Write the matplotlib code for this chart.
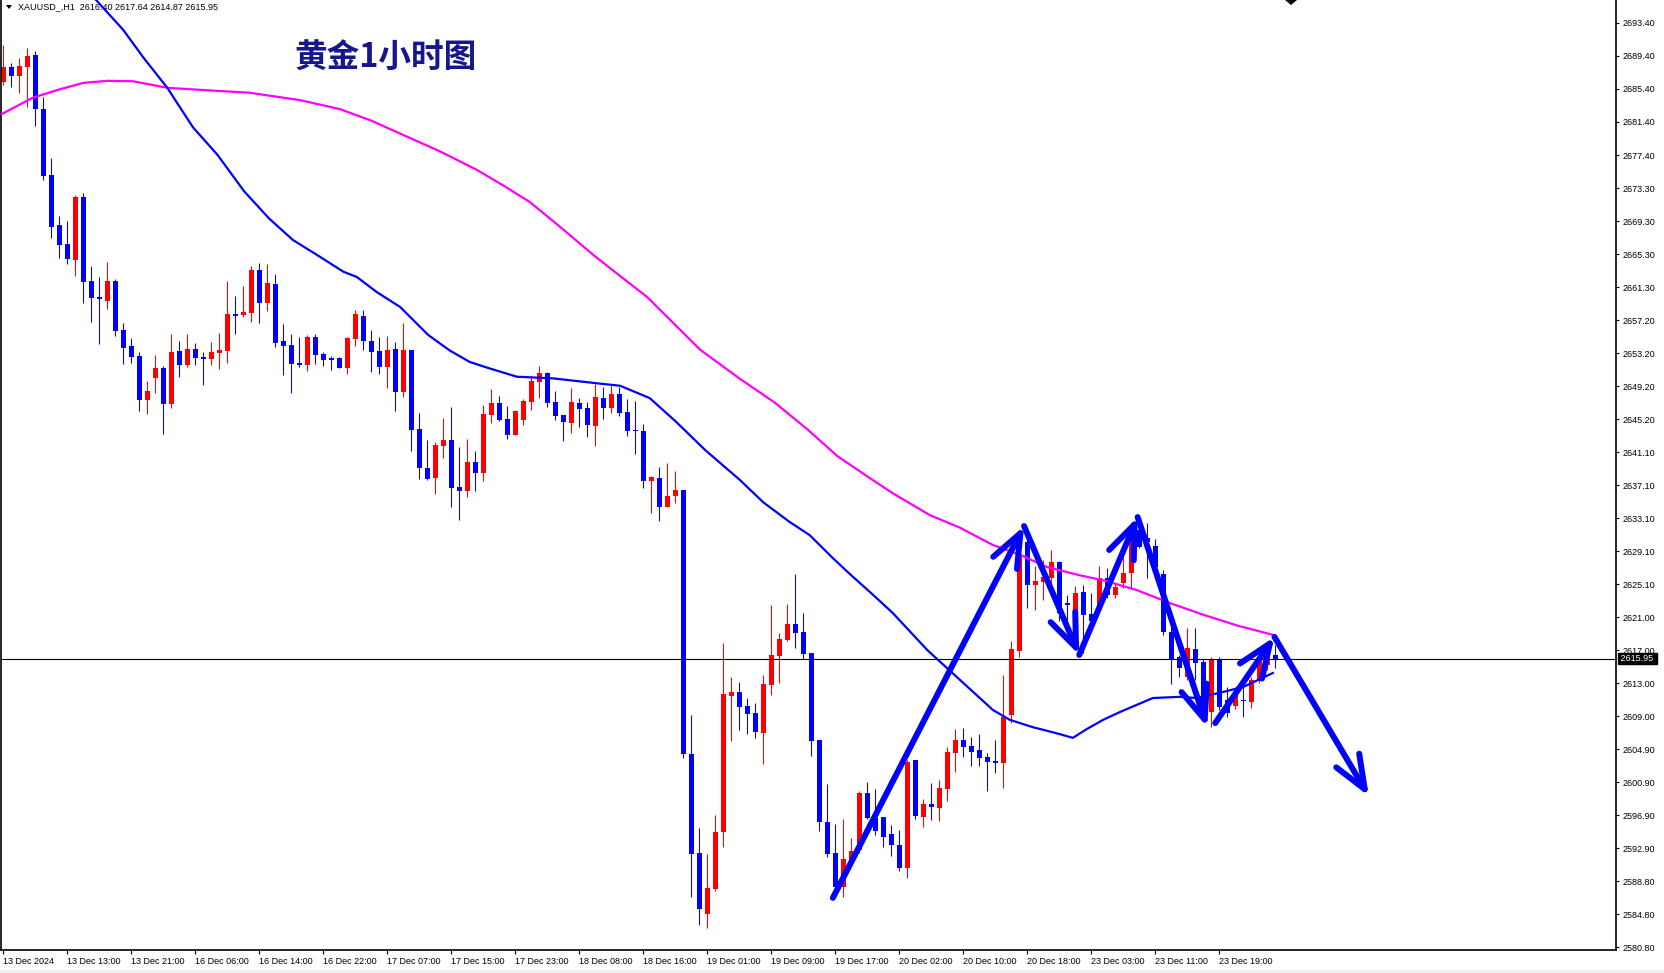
import matplotlib
matplotlib.use('Agg')
import matplotlib.pyplot as plt
from matplotlib.patches import Polygon, Rectangle
import numpy as np

plt.rcParams['font.family'] = ['Liberation Sans', 'DejaVu Sans']

# ---- 行情数据 XAUUSD H1 (从截图读取) ----
opens = [2686.25, 2688.00, 2686.98, 2688.08, 2689.50, 2682.92, 2674.88, 2668.79, 2666.47, 2664.52,
         2672.24, 2661.96, 2660.05, 2659.57, 2662.00, 2656.00, 2654.04, 2652.82, 2647.46, 2650.18,
         2651.32, 2646.97, 2653.39, 2651.73, 2653.64, 2652.70, 2652.45, 2653.23, 2653.47, 2657.94,
         2657.86, 2658.10, 2663.30, 2659.32, 2661.60, 2654.65, 2654.16, 2651.97, 2651.73, 2655.10,
         2653.07, 2652.62, 2652.62, 2651.40, 2654.94, 2657.70, 2654.65, 2653.43, 2651.52, 2653.68,
         2648.48, 2653.55, 2643.93, 2639.14, 2637.91, 2641.90, 2642.58, 2636.86, 2636.41, 2639.90,
         2638.60, 2645.67, 2647.09, 2645.14, 2643.23, 2645.06, 2647.26, 2649.69, 2650.75, 2647.21,
         2645.63, 2644.70, 2647.09, 2646.48, 2644.33, 2647.70, 2646.52, 2648.19, 2646.00, 2643.84,
         2643.72, 2637.63, 2637.92, 2634.46, 2635.80, 2636.50, 2604.32, 2592.22, 2584.83, 2587.83,
         2594.86, 2611.39, 2611.88, 2610.17, 2609.32, 2606.88, 2612.73, 2616.27, 2618.22, 2620.17,
         2619.19, 2616.63, 2606.03, 2596.04, 2592.26, 2588.16, 2591.49, 2592.63, 2599.61, 2596.50,
         2596.69, 2594.58, 2593.24, 2590.48, 2603.60, 2596.69, 2598.24, 2597.79, 2600.07, 2604.49,
         2606.04, 2605.30, 2604.82, 2604.00, 2603.48, 2603.28, 2609.08, 2616.92, 2630.12, 2624.92,
         2625.33, 2625.82, 2627.77, 2622.70, 2620.25, 2624.03, 2621.39, 2621.88, 2625.74, 2623.71,
         2625.13, 2626.35, 2631.60, 2630.60, 2629.68, 2626.27, 2619.24, 2616.19, 2613.75, 2617.13,
         2615.58, 2609.49, 2615.79, 2610.90, 2610.22, 2610.95, 2610.71, 2613.35, 2615.17, 2616.40]
highs = [2690.72, 2688.49, 2689.10, 2690.32, 2690.03, 2684.43, 2676.91, 2669.88, 2669.27, 2672.44,
         2672.65, 2663.79, 2662.49, 2664.32, 2662.17, 2656.80, 2654.98, 2653.31, 2649.78, 2652.95,
         2651.60, 2655.50, 2654.65, 2655.50, 2654.37, 2653.27, 2654.49, 2655.59, 2661.96, 2660.14,
         2661.35, 2663.79, 2664.20, 2664.04, 2662.82, 2656.72, 2655.51, 2655.14, 2655.38, 2655.51,
         2653.31, 2652.82, 2652.74, 2655.18, 2658.43, 2658.43, 2656.00, 2655.10, 2655.26, 2654.53,
         2656.85, 2653.60, 2645.88, 2642.59, 2642.34, 2645.27, 2646.61, 2641.73, 2642.71, 2641.24,
         2646.85, 2648.80, 2647.95, 2646.73, 2646.24, 2647.58, 2650.38, 2651.64, 2650.87, 2648.56,
         2645.63, 2648.92, 2647.70, 2647.26, 2649.41, 2649.04, 2649.29, 2649.04, 2647.58, 2647.34,
         2644.57, 2638.20, 2639.34, 2639.83, 2638.81, 2636.50, 2609.08, 2595.35, 2592.14, 2596.89,
         2617.89, 2613.71, 2613.10, 2611.15, 2610.50, 2613.91, 2622.48, 2619.07, 2622.60, 2626.26,
         2621.51, 2616.63, 2606.03, 2600.71, 2595.84, 2596.45, 2594.13, 2599.86, 2600.87, 2600.10,
         2596.69, 2595.68, 2595.07, 2603.60, 2603.60, 2598.81, 2600.84, 2601.16, 2605.22, 2607.42,
         2607.50, 2606.44, 2606.77, 2604.49, 2606.04, 2613.96, 2618.06, 2631.00, 2632.00, 2627.24,
         2627.97, 2629.19, 2627.80, 2623.70, 2624.80, 2624.92, 2623.91, 2627.24, 2626.96, 2625.20,
         2628.38, 2632.44, 2632.80, 2632.44, 2630.49, 2626.75, 2619.80, 2616.40, 2619.64, 2619.64,
         2615.90, 2616.20, 2616.20, 2612.50, 2612.54, 2613.35, 2613.75, 2616.60, 2618.00, 2617.64]
lows = [2685.85, 2685.56, 2684.83, 2683.13, 2680.89, 2674.27, 2667.24, 2664.73, 2664.03, 2662.57,
        2659.32, 2657.01, 2654.29, 2658.51, 2655.26, 2651.85, 2652.00, 2646.16, 2645.76, 2648.27,
        2643.32, 2646.45, 2650.30, 2651.52, 2651.73, 2649.30, 2651.73, 2651.24, 2652.01, 2655.51,
        2657.62, 2656.97, 2656.89, 2658.35, 2653.96, 2650.55, 2648.36, 2651.52, 2651.04, 2651.85,
        2651.60, 2651.12, 2651.32, 2650.67, 2654.04, 2653.56, 2650.92, 2650.67, 2648.97, 2646.16,
        2647.87, 2641.29, 2637.79, 2637.71, 2636.00, 2640.43, 2634.46, 2632.84, 2635.68, 2636.41,
        2637.63, 2644.70, 2644.90, 2642.75, 2643.20, 2644.41, 2646.24, 2647.74, 2646.65, 2645.02,
        2642.50, 2643.48, 2644.21, 2642.99, 2641.89, 2645.18, 2645.92, 2645.55, 2643.11, 2640.92,
        2636.78, 2633.65, 2632.76, 2634.38, 2634.95, 2603.80, 2586.94, 2583.49, 2583.16, 2587.67,
        2593.03, 2605.95, 2607.25, 2606.76, 2606.27, 2603.11, 2611.51, 2612.98, 2618.10, 2617.24,
        2615.90, 2604.12, 2594.98, 2591.73, 2586.94, 2586.94, 2591.00, 2592.30, 2596.36, 2594.50,
        2593.04, 2591.90, 2590.11, 2589.26, 2596.37, 2595.48, 2596.29, 2596.21, 2598.64, 2602.18,
        2604.00, 2602.87, 2602.87, 2599.86, 2601.97, 2600.15, 2608.15, 2616.19, 2622.08, 2621.88,
        2623.10, 2625.13, 2620.50, 2620.70, 2619.00, 2616.60, 2619.44, 2621.50, 2623.30, 2623.30,
        2624.52, 2624.52, 2629.40, 2625.74, 2626.50, 2618.83, 2612.86, 2613.75, 2613.35, 2613.35,
        2609.29, 2607.66, 2609.70, 2608.90, 2609.80, 2608.88, 2609.90, 2612.94, 2614.60, 2614.87]
closes = [2688.08, 2686.98, 2688.16, 2689.38, 2682.96, 2674.80, 2668.58, 2666.35, 2664.60, 2672.24,
          2661.88, 2659.93, 2659.73, 2661.96, 2655.87, 2653.84, 2652.74, 2647.46, 2648.56, 2651.32,
          2646.97, 2653.27, 2651.73, 2653.64, 2652.62, 2652.45, 2653.31, 2653.55, 2658.00, 2657.70,
          2658.19, 2663.30, 2659.32, 2661.76, 2654.45, 2654.04, 2651.89, 2651.73, 2655.14, 2652.99,
          2652.38, 2652.38, 2651.40, 2655.02, 2657.94, 2654.69, 2653.35, 2651.52, 2653.55, 2648.48,
          2653.55, 2643.85, 2639.22, 2637.84, 2641.98, 2642.58, 2636.78, 2636.41, 2639.90, 2638.60,
          2645.75, 2647.09, 2645.02, 2643.23, 2646.12, 2647.34, 2649.81, 2650.75, 2647.13, 2645.55,
          2644.82, 2647.21, 2646.36, 2644.45, 2647.82, 2646.52, 2648.19, 2645.92, 2643.72, 2643.72,
          2637.63, 2638.04, 2634.46, 2635.76, 2636.50, 2604.28, 2592.14, 2585.44, 2588.04, 2594.86,
          2611.64, 2611.88, 2610.09, 2609.20, 2607.00, 2612.86, 2616.39, 2618.34, 2620.17, 2619.07,
          2616.55, 2605.95, 2596.08, 2592.14, 2588.16, 2591.53, 2592.50, 2599.61, 2596.57, 2595.00,
          2594.26, 2593.24, 2590.48, 2603.40, 2596.81, 2598.24, 2597.83, 2600.15, 2604.53, 2606.04,
          2605.22, 2604.61, 2603.88, 2603.40, 2603.28, 2608.88, 2617.09, 2628.58, 2624.92, 2625.41,
          2625.94, 2627.77, 2621.50, 2622.50, 2623.90, 2621.27, 2620.58, 2625.74, 2623.71, 2624.72,
          2626.35, 2630.41, 2629.60, 2630.20, 2627.08, 2619.24, 2615.91, 2614.77, 2617.21, 2615.46,
          2609.69, 2615.79, 2610.10, 2609.30, 2611.72, 2610.80, 2613.35, 2615.79, 2617.00, 2615.95]

# 均线 (bar 序号, 价格)
ma_fast_idx = [11.5, 15.0, 17.5, 20.5, 23.7, 26.8, 30.1, 33.2, 36.2, 39.6, 42.5, 44.2, 46.7, 49.6,
               53.1, 55.8, 58.3, 60.5, 64.2, 68.7, 74.2, 77.1, 80.8, 84.0, 87.7, 92.1, 95.0, 98.3,
               100.8, 103.7, 106.0, 108.3, 111.2, 115.5, 119.6, 123.7, 125.8, 128.7, 131.5, 133.7,
               135.5, 137.5, 139.6, 143.7, 147.1, 149.2, 152.1, 155.0, 158.7]
ma_fast_val = [2696.3, 2692.55, 2689.2, 2685.5, 2680.7, 2677.3, 2672.9, 2669.6, 2666.96, 2664.9,
               2663.1, 2662.45, 2660.6, 2658.8, 2655.4, 2653.5, 2652.1, 2651.4, 2650.3, 2650.1,
               2649.5, 2649.2, 2647.7, 2644.9, 2641.4, 2637.7, 2635.0, 2632.6, 2631.0, 2628.2,
               2626.1, 2624.1, 2621.5, 2617.0, 2613.35, 2609.7, 2608.5, 2607.6, 2606.9, 2606.3,
               2607.4, 2608.5, 2609.45, 2611.15, 2611.3, 2611.15, 2611.8, 2612.5, 2614.2]
ma_slow_idx = [-0.4, 3.7, 7.0, 10.0, 13.0, 16.2, 20.5, 25.5, 30.8, 37.1, 42.1, 46.0, 50.0, 54.5,
               59.2, 62.5, 65.8, 69.8, 73.8, 77.2, 80.5, 83.8, 87.1, 92.0, 96.5, 100.5, 104.3, 108.7,
               111.2, 115.8, 119.6, 123.7, 127.1, 130.5, 134.6, 137.5, 141.7, 145.9, 150.0, 154.2,
               158.9]
ma_slow_val = [2682.2, 2684.3, 2685.3, 2686.1, 2686.35, 2686.3, 2685.5, 2685.2, 2684.9, 2684.0,
               2682.9, 2681.5, 2679.75, 2677.8, 2675.5, 2673.6, 2671.6, 2668.4, 2665.1, 2662.5,
               2660.0, 2656.8, 2653.6, 2650.1, 2647.1, 2643.9, 2640.6, 2637.7, 2636.1, 2633.45,
               2631.9, 2629.8, 2628.6, 2627.1, 2626.1, 2625.5, 2624.3, 2622.7, 2621.3, 2620.0,
               2618.8]

# 手绘箭头路线 (起点, 终点)
arrow_legs = [((103.7, 2586.8), (127.6, 2632.1)),
              ((127.6, 2632.1), (134.5, 2616.4)),
              ((134.5, 2616.4), (141.8, 2633.2)),
              ((141.8, 2633.2), (150.5, 2607.6)),
              ((151.5, 2608.1), (158.9, 2618.6)),
              ((158.9, 2618.6), (170.7, 2599.2))]

last_price = 2615.95
y_labels = ['2693.40', '2689.40', '2685.40', '2681.40', '2677.40', '2673.30', '2669.30', '2665.30',
            '2661.30', '2657.20', '2653.20', '2649.20', '2645.20', '2641.10', '2637.10', '2633.10',
            '2629.10', '2625.10', '2621.00', '2617.00', '2613.00', '2609.00', '2604.90', '2600.90',
            '2596.90', '2592.90', '2588.80', '2584.80', '2580.80']
x_labels = ['13 Dec 2024', '13 Dec 13:00', '13 Dec 21:00', '16 Dec 06:00', '16 Dec 14:00',
            '16 Dec 22:00', '17 Dec 07:00', '17 Dec 15:00', '17 Dec 23:00', '18 Dec 08:00',
            '18 Dec 16:00', '19 Dec 01:00', '19 Dec 09:00', '19 Dec 17:00', '20 Dec 02:00',
            '20 Dec 10:00', '20 Dec 18:00', '23 Dec 03:00', '23 Dec 11:00', '23 Dec 19:00']

W, H = 1664, 973
fig = plt.figure(figsize=(W / 100, H / 100), dpi=100)
fig.patch.set_facecolor('white')
ax = fig.add_axes([1 / W, 23 / H, 1615 / W, 950 / H])

o = np.array(opens); h = np.array(highs); l = np.array(lows); c = np.array(closes)
idx = np.arange(len(o))
up = c >= o
col = np.where(up, '#FF0000', '#0000FF')

# 蜡烛图
ax.vlines(idx, l, h, colors=col, linewidth=0.75, zorder=2)
body_lo = np.minimum(o, c)
body_h = np.maximum(np.abs(c - o), 0.12)
ax.bar(idx, body_h, bottom=body_lo, width=0.62, color=col, linewidth=0, zorder=2)

# 均线
ax.plot(ma_slow_idx, ma_slow_val, color='#FF00FF', linewidth=1.6, zorder=3,
        solid_joinstyle='round')
ax.plot(ma_fast_idx, ma_fast_val, color='#0000FF', linewidth=1.6, zorder=3,
        solid_joinstyle='round')

# 当前价格线
ax.axhline(last_price, color='black', linewidth=0.8, zorder=3)

# 箭头
for start, end in arrow_legs:
    ax.annotate('', xy=end, xytext=start,
                arrowprops=dict(arrowstyle='->,head_length=0.8,head_width=0.32',
                                mutation_scale=30, color='#0000FF', lw=4.3,
                                shrinkA=0, shrinkB=0, capstyle='round', joinstyle='round'),
                zorder=4, annotation_clip=False)

ax.set_xlim(-0.29, 201.6)
ax.set_ylim(2580.45, 2696.2)

step = (2693.40 - 2580.80) / 28
ax.set_yticks([2693.40 - k * step for k in range(len(y_labels))])
ax.set_yticklabels(y_labels)
ax.yaxis.tick_right()
ax.tick_params(axis='y', direction='out', length=2.5, width=0.8, pad=2, labelsize=6.5)

ax.set_xticks(np.arange(0, 8 * len(x_labels), 8))
ax.set_xticklabels(x_labels, ha='left')
ax.tick_params(axis='x', direction='out', length=3, width=0.8, pad=2, labelsize=6.5)

for s in ['left', 'bottom', 'right']:
    ax.spines[s].set_linewidth(1.2)
ax.spines['top'].set_visible(False)

# 右侧价格标签
ax.text(1.0015, last_price, ' 2615.95 ', transform=ax.get_yaxis_transform(),
        ha='left', va='center', fontsize=6.5, color='white',
        bbox=dict(boxstyle='square,pad=0.1', fc='black', ec='black'), zorder=6, clip_on=False)

# 左上角品种信息
fig.patches.append(Polygon([[6 / W, 1 - 5 / H], [12 / W, 1 - 5 / H], [9 / W, 1 - 9 / H]],
                           closed=True, transform=fig.transFigure, fc='black', ec='none'))
ax.text(17 / 1615, 1 - 7 / 950, 'XAUUSD_,H1  2616.40 2617.64 2614.87 2615.95',
        transform=ax.transAxes, fontsize=6.5, va='center', ha='left', zorder=2.5)

# 顶部小标记
fig.patches.append(Polygon([[1285 / W, 1.0], [1297 / W, 1.0], [1291 / W, 1 - 5 / H]],
                           closed=True, transform=fig.transFigure, fc='black', ec='none'))

# 标题
fig.text(294 / W, 1 - 57 / H, '黄金1小时图', fontsize=23.5, fontweight='bold', color='#16168E',
         family=['Noto Sans CJK SC', 'DejaVu Sans'], va='center', ha='left')

# 底部灰条
fig.patches.append(Rectangle((0, 0), 1, 3 / H, transform=fig.transFigure, fc='#F0F0F0', ec='none'))

fig.savefig('out.png', dpi=100, facecolor='white')
